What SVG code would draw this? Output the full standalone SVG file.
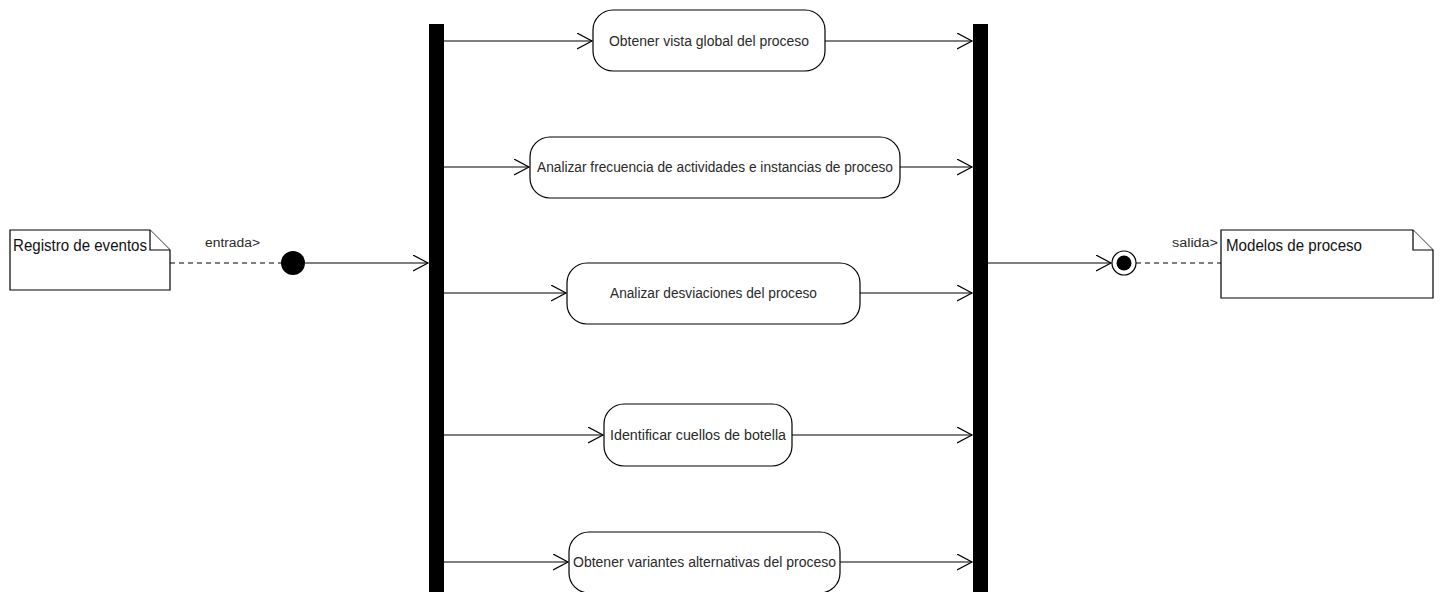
<svg xmlns="http://www.w3.org/2000/svg" width="1440" height="592" viewBox="0 0 1440 592">
  <style>
    .bg { fill: #ffffff; }
    .act { fill: #ffffff; stroke: #000000; stroke-width: 1.2; }
    .note { fill: #ffffff; stroke: #000000; stroke-width: 1.2; }
    .bar { fill: #000000; }
    .flow { fill: none; stroke: #000000; stroke-width: 1.2; marker-end: url(#open); }
    .dash { fill: none; stroke: #000000; stroke-width: 1.2; stroke-dasharray: 5 4; }
    .lbl { font-family: "Liberation Sans", Arial, sans-serif; font-size: 14px; fill: #2a2a2a; }
    .small { font-family: "Liberation Sans", Arial, sans-serif; font-size: 12.5px; fill: #2a2a2a; }
    .big { font-family: "Liberation Sans", Arial, sans-serif; font-size: 16px; fill: #111111; }
  </style>
  <defs>
    <marker id="open" markerUnits="userSpaceOnUse" markerWidth="18" markerHeight="18" refX="15" refY="8" orient="auto">
      <path d="M0,0 L15,8 L0,16" fill="none" stroke="#000000" stroke-width="1.2"/>
    </marker>
  </defs>
  <rect class="bg" x="0" y="0" width="1440" height="592"/>

  <!-- connectors -->
  <g id="connectors">
    <line class="dash" x1="170" y1="263" x2="281" y2="263"/>
    <text class="small" x="205" y="247" textLength="55" lengthAdjust="spacingAndGlyphs">entrada&gt;</text>
    <line class="flow" x1="305" y1="263" x2="428" y2="263"/>

    <line class="flow" x1="443" y1="41" x2="592" y2="41"/>
    <line class="flow" x1="443" y1="167" x2="529" y2="167"/>
    <line class="flow" x1="443" y1="293" x2="566" y2="293"/>
    <line class="flow" x1="443" y1="435" x2="603" y2="435"/>
    <line class="flow" x1="443" y1="562" x2="568" y2="562"/>

    <line class="flow" x1="825" y1="41" x2="972" y2="41"/>
    <line class="flow" x1="900" y1="167" x2="972" y2="167"/>
    <line class="flow" x1="860" y1="293" x2="972" y2="293"/>
    <line class="flow" x1="792" y1="435" x2="972" y2="435"/>
    <line class="flow" x1="840" y1="562" x2="972" y2="562"/>

    <line class="flow" x1="988" y1="263" x2="1111" y2="263"/>
    <line class="dash" x1="1136" y1="263" x2="1221" y2="263"/>
    <text class="small" x="1172" y="247" textLength="46" lengthAdjust="spacingAndGlyphs">salida&gt;</text>
  </g>

  <!-- input object -->
  <g id="registro">
    <path class="note" d="M10,230 H150 L170,250 V290 H10 Z"/>
    <path class="note" d="M150,230 V250 H170" fill="none"/>
    <text class="big" x="13" y="251" textLength="134" lengthAdjust="spacingAndGlyphs">Registro de eventos</text>
  </g>

  <!-- initial node -->
  <g id="inicio">
    <circle cx="293" cy="263" r="12" fill="#000000"/>
  </g>

  <!-- fork / join bars -->
  <g id="fork">
    <rect class="bar" x="429" y="24" width="15" height="570"/>
  </g>
  <g id="join">
    <rect class="bar" x="973" y="24" width="15" height="570"/>
  </g>

  <!-- activities -->
  <g id="act1">
    <rect class="act" x="593" y="10" width="232" height="61" rx="20" ry="20"/>
    <text class="lbl" x="609" y="46" textLength="200" lengthAdjust="spacingAndGlyphs">Obtener vista global del proceso</text>
  </g>
  <g id="act2">
    <rect class="act" x="530" y="137" width="370" height="61" rx="20" ry="20"/>
    <text class="lbl" x="537" y="172" textLength="356" lengthAdjust="spacingAndGlyphs">Analizar frecuencia de actividades e instancias de proceso</text>
  </g>
  <g id="act3">
    <rect class="act" x="567" y="263" width="293" height="61" rx="20" ry="20"/>
    <text class="lbl" x="610" y="298" textLength="207" lengthAdjust="spacingAndGlyphs">Analizar desviaciones del proceso</text>
  </g>
  <g id="act4">
    <rect class="act" x="604" y="404" width="188" height="62" rx="20" ry="20"/>
    <text class="lbl" x="610" y="440" textLength="176" lengthAdjust="spacingAndGlyphs">Identificar cuellos de botella</text>
  </g>
  <g id="act5">
    <rect class="act" x="569" y="532" width="271" height="61" rx="20" ry="20"/>
    <text class="lbl" x="573" y="567" textLength="263" lengthAdjust="spacingAndGlyphs">Obtener variantes alternativas del proceso</text>
  </g>

  <!-- final node -->
  <g id="fin">
    <circle cx="1124" cy="263" r="12" fill="#ffffff" stroke="#000000" stroke-width="1.2"/>
    <circle cx="1124" cy="263" r="7.5" fill="#000000"/>
  </g>

  <!-- output object -->
  <g id="modelos">
    <path class="note" d="M1221,230 H1413 L1433,250 V298 H1221 Z"/>
    <path class="note" d="M1413,230 V250 H1433" fill="none"/>
    <text class="big" x="1226" y="251" textLength="136" lengthAdjust="spacingAndGlyphs">Modelos de proceso</text>
  </g>
</svg>
